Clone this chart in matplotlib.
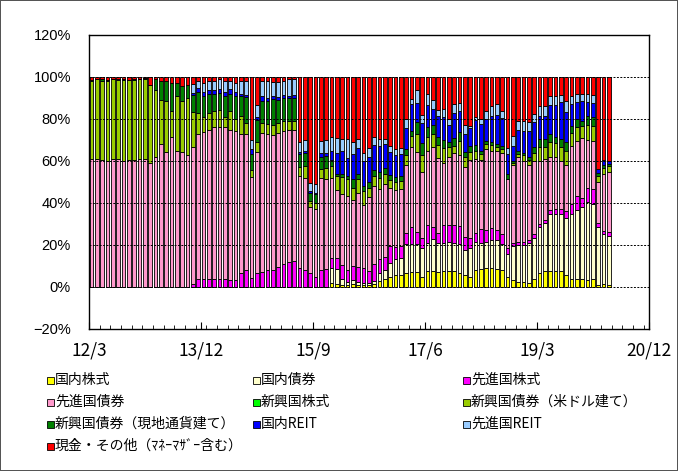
import numpy as np
import matplotlib.pyplot as plt
from matplotlib.patches import Rectangle

# monthly allocation (%), 2012/3 .. 2020/4, bottom -> top of each stack
dom_eq = [
    0, 0, 0, 0, 0, 0, 0, 0, 0, 0, 0, 0, 0, 0, 0,
    0, 0, 0, 0, 0, 0, 0, 0, 0, 0, 0, 0, 0, 0, 0,
    0, 0, 0, 0, 0, 0, 0, 0, 0, 0, 0, 0, 0, 0, 0,
    2, 1.5, 1, 1, 1.5, 1, 1, 1, 1.5, 3, 4, 5, 5.5, 5.5, 6.5,
    7, 7, 5, 7.5, 7.5, 7, 7.5, 7.5, 7.5, 6.5, 5.5, 5, 8, 8.5,
    9, 9, 8.5, 8, 5, 3.5, 2.5, 2.5, 2, 4, 6.5, 7.5,
    7.5, 7.5, 7.5, 5.5, 4, 4, 4, 3.5, 4, 1, 1.5, 1]
dom_bd = [
    0, 0, 0, 0, 0, 0, 0, 0, 0, 0, 0, 0, 0, 0, 0,
    0, 0, 0, 0, 0, 0, 0, 0, 0, 0, 0, 0, 0, 0, 0,
    0, 0, 0, 0, 0, 0, 0, 0, 0, 0, 0, 0, 0, 0, 0,
    7, 7, 3, 1.5, 2, 1.5, 1, 1, 1.5, 3.5, 4, 6.5, 8, 8.5, 14,
    13.5, 13.5, 13.5, 13.5, 15.5, 14, 13.5, 14, 13.5, 14, 12, 13.5, 13.5, 12.5,
    12.5, 13.5, 14, 12.5, 10.5, 16, 17.5, 17.5, 19, 19.5, 22, 23,
    27.5, 27.5, 27.5, 27.5, 31, 32.5, 34, 37, 35.5, 27.5, 23.5, 23.5]
dev_eq = [
    0, 0, 0, 0, 0, 0, 0, 0, 0, 0, 0, 0, 0, 0, 0, 0, 0, 0, 0,
    1.5, 4, 4, 4, 4, 4, 4, 3.5, 3.5, 6.5, 8, 4.5, 6.5,
    7, 8, 8, 9.5, 11, 12, 12.5, 9, 8, 6.5, 5, 8, 8.5,
    5, 5.5, 6.5, 5.5, 6.5, 7, 7, 5.5, 8, 7, 6.5, 8, 5.5, 5.5, 5,
    8, 5.5, 5, 8.5, 5.5, 4.5, 8.5, 8, 8.5, 8.5, 6.5, 5, 4, 6.5,
    5.5, 5.5, 4.5, 4.5, 3, 1.5, 1.5, 1.5, 1.5, 1.5, 1.5, 1.5,
    1.5, 2, 2, 3, 4.5, 7, 4.5, 6.5, 7, 2, 1.5, 1.5]
dev_bd = [
    61, 61, 60.5, 60, 61, 61, 60, 60.5, 60.5, 61, 61, 59, 62, 68, 64.5, 71.5, 65, 64.5, 63,
    65, 69, 70, 71, 72, 72, 72, 71.5, 71, 66.5, 65, 48, 58,
    66.5, 65, 64.5, 64, 63.5, 63, 62.5, 44, 44, 31.5, 32, 44, 43,
    38, 32, 34, 35.5, 31.5, 35.5, 30, 35.5, 37, 33, 34.5, 27.5, 27, 27, 32.5,
    38, 38.5, 31.5, 35.5, 38, 36, 29.5, 32.5, 34.5, 34, 33, 37, 35.5, 33,
    38.5, 37, 38, 39, 33, 37, 40.5, 38.5, 35.5, 35, 30, 29,
    25.5, 25, 23, 22, 27.5, 26, 28.5, 23, 23, 19.5, 27.5, 29]
emg_eq = [
    0, 0, 0, 0, 0, 0, 0, 0, 0, 0, 0, 0, 0, 0, 0, 0, 0, 0, 0,
    0, 0, 0, 0, 0, 0, 0, 0, 0, 0, 0, 0, 0,
    0, 0, 0, 0, 0, 0, 0, 0, 0, 0, 0, 0, 0,
    0, 0, 0, 0, 0, 0, 0, 0, 0, 0, 0, 0, 0, 0, 0,
    0, 0, 0, 0, 0, 0, 0, 0, 0, 0, 0, 0, 0, 0,
    0, 0, 0, 0, 0, 0, 0, 0, 0, 0, 0, 0,
    0, 0, 0, 0, 0, 0, 0, 0, 0, 0, 0, 0]
emg_usd = [
    37, 38, 37.5, 38, 38, 37.5, 38.5, 38, 38, 38, 38, 37, 32, 21, 24, 12.5, 26, 24, 27,
    17, 10, 7, 8, 8, 8.5, 5, 9, 5.5, 8.5, 5, 3, 4.5,
    4.5, 4.5, 4.5, 4.5, 4.5, 4, 4, 4, 5.5, 3, 3, 4, 5,
    5.5, 7, 8, 8, 5.5, 6.5, 6.5, 4, 5, 5.5, 5, 4, 4, 4, 5,
    5.5, 8.5, 8, 6.5, 6.5, 6, 7, 4.5, 3, 6.5, 5, 4, 4, 3,
    2.5, 2.5, 1.5, 1.5, 0, 1, 1.5, 3, 2.5, 4, 6.5, 5.5,
    7, 6.5, 6.5, 7, 6.5, 6.5, 5.5, 7, 7, 3, 2.5, 2.5]
emg_loc = [
    0.5, 0, 1, 0.5, 0, 0.5, 0.5, 0, 0.5, 0, 0.5, 0, 5, 9, 9.5, 13, 6, 7, 6,
    8, 10, 10, 9, 8, 8, 10, 8, 11, 9.5, 12.5, 8, 10.5,
    10.5, 11, 12.5, 11, 11, 11, 11, 6.5, 6.5, 4, 4.5, 6, 6,
    3, 1, 1.5, 1.5, 4.5, 2.5, 2.5, 3, 2.5, 3, 2.5, 2.5, 2.5, 2.5, 2.5,
    2.5, 5.5, 5.5, 4.5, 4, 4, 4, 2.5, 4, 4.5, 2.5, 2.5, 2.5, 1.5,
    1.5, 1.5, 1.5, 1.5, 2.5, 1, 1.5, 1, 1.5, 2.5, 4, 4,
    4, 3, 4, 4, 3, 4, 2.5, 4.5, 4.5, 1.5, 1.5, 1]
dom_reit = [
    0, 0, 0, 0, 0, 0, 0, 0, 0, 0, 0, 0, 0, 0, 0, 0, 0, 0, 0,
    1, 2, 2, 2, 2, 2, 2, 2.5, 2, 1, 1, 2, 1.5,
    2.5, 1.5, 1.5, 1.5, 1.5, 1, 1.5, 1, 1, 0.5, 0.5, 2, 1.5,
    4.5, 10, 11, 8.5, 12, 12, 12, 12, 12, 12, 11.5, 11, 10.5, 10.5, 10,
    12.5, 9, 9.5, 10.5, 8, 10, 11, 8, 12, 10, 8.5, 8.5, 12, 12.5,
    10.5, 12.5, 14, 13.5, 9.5, 7, 10, 10.5, 12.5, 12, 11, 11,
    13.5, 15, 17.5, 14.5, 10.5, 8, 9.5, 6.5, 6.5, 1.5, 2.5, 1.5]
dev_reit = [
    0, 0, 0, 0, 0, 0, 0, 0, 0, 0, 0, 0, 0, 0, 0, 0, 0, 0, 0,
    4, 3, 4, 4, 4, 4.5, 5, 3.5, 4, 6, 6.5, 4.5, 5.5,
    7, 8, 6.5, 7, 6.5, 8, 7.5, 4.5, 5, 4, 4, 5.5, 6,
    6.5, 7, 5.5, 9, 5.5, 4.5, 4, 4, 4, 3.5, 2.5, 2.5, 2.5, 2.5, 4.5,
    2.5, 6.5, 4, 5.5, 4, 3, 4, 3, 4, 3.5, 4, 1, 1.5, 2.5,
    4, 4.5, 5, 3.5, 2.5, 5, 4, 4.5, 4, 4, 4.5, 4.5,
    4.5, 4.5, 3.5, 5, 4, 4, 3.5, 4, 4, 0, 0, 0]
cash = [
    1.5, 1, 1, 1.5, 1, 1, 1, 1.5, 1, 1, 0.5, 4, 1, 2, 2, 3, 3, 4.5, 4,
    3.5, 2, 3, 2, 2, 1, 2, 2, 3, 2, 2, 30, 13.5,
    2, 2, 2.5, 2.5, 2, 1, 1, 31, 30, 50.5, 51, 30.5, 30,
    28.5, 29, 29.5, 29.5, 31, 29.5, 36, 34, 28.5, 29.5, 29.5, 33, 34.5, 34, 20,
    10.5, 6, 18, 8, 11, 15.5, 15, 20, 13, 12.5, 23, 23.5, 19, 20,
    16, 14, 13, 16, 34, 28, 21, 21, 21.5, 17.5, 14, 14,
    9, 9, 8.5, 11.5, 9, 8, 8, 8, 8.5, 44, 39.5, 40]

labels = ['国内株式', '国内債券', '先進国株式', '先進国債券', '新興国株式',
          '新興国債券（米ドル建て）', '新興国債券（現地通貨建て）', '国内REIT',
          '先進国REIT', '現金・その他（ﾏﾈｰﾏｻﾞｰ含む）']
colors = ['#FFFF00', '#FFFFCC', '#FF00FF', '#FF99CC', '#00FF00',
          '#99CC00', '#008000', '#0000FF', '#99CCFF', '#FF0000']
series = [dom_eq, dom_bd, dev_eq, dev_bd, emg_eq, emg_usd, emg_loc,
          dom_reit, dev_reit, cash]

x_ticks = [0, 21, 42, 63, 84, 105]          # months from 2012/3
x_labels = ['12/3', '13/12', '15/9', '17/6', '19/3', '20/12']
y_ticks = [-20, 0, 20, 40, 60, 80, 100, 120]

JP = ['Noto Sans CJK JP', 'DejaVu Sans']

W, H = 678, 471
fig = plt.figure(figsize=(W / 100, H / 100), dpi=100)
fig.patch.set_edgecolor('#555555')
fig.patch.set_linewidth(1.2)
ax = fig.add_axes([89 / W, 1 - 329 / H, 560 / W, 294 / H])

x = np.arange(len(cash)) + 0.45
bottom = np.zeros(len(cash))
for vals, col in zip(series, colors):
    v = np.array(vals, dtype=float)
    ax.bar(x, v, 0.68, bottom=bottom, color=col, edgecolor='black',
           linewidth=0.6, zorder=2)
    bottom += v

ax.set_xlim(0, 105)
ax.set_ylim(-20, 120)
ax.set_yticks(y_ticks)
ax.set_yticklabels([f'{v}%'.replace('-', '−') for v in y_ticks],
                   family='Liberation Sans', fontsize=10.5)
ax.set_xticks(x_ticks)
ax.set_xticklabels(x_labels, family=JP, fontsize=12.5)
ax.set_xticks(np.arange(0, 106, 2), minor=True)
ax.tick_params(axis='x', which='major', direction='in', length=5, width=0.8, pad=9)
ax.tick_params(axis='x', which='minor', direction='in', length=3, width=0.6)
ax.tick_params(axis='y', length=0, pad=13)

for g in [0, 20, 40, 60, 80, 100]:
    ax.axhline(g, color='black', linewidth=0.7, linestyle=(0, (2, 1.5)), zorder=3)
for s in ax.spines.values():
    s.set_linewidth(1.0)
    s.set_color('black')

# legend: 3 columns, row-major like the original
col_x = [50, 256, 466]
row_y = [380, 402, 424, 446]
for k, (lab, col) in enumerate(zip(labels, colors)):
    r, c = divmod(k, 3)
    cx, cy = col_x[c], row_y[r]
    fig.add_artist(Rectangle(((cx - 3.5) / W, 1 - (cy + 3.5) / H), 7 / W, 7 / H,
                             transform=fig.transFigure, facecolor=col,
                             edgecolor='black', linewidth=0.6))
    fig.text((cx + 5) / W, 1 - cy / H, lab, family=JP, fontsize=10,
             va='center', ha='left')

fig.savefig('out.png', dpi=100)
